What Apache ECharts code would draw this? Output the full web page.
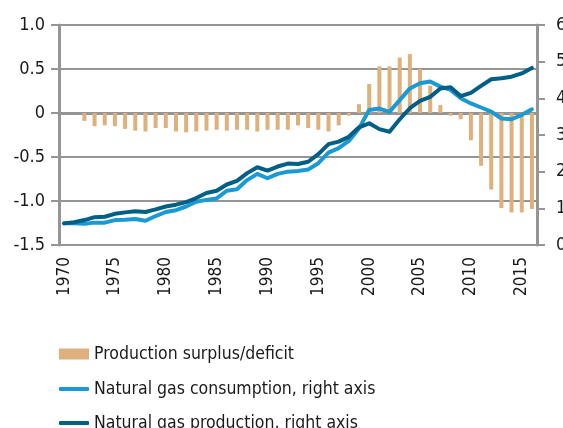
<!DOCTYPE html>
<html>
<head>
<meta charset="utf-8">
<script src="https://cdn.jsdelivr.net/npm/echarts@6/dist/echarts.min.js"></script>
<style>
  html, body { margin: 0; padding: 0; background: #fff; }
  #chart { width: 563px; height: 428px; }
</style>
</head>
<body>
<div id="chart"></div>
<script>
// years on the x axis
var years = [];
for (var y = 1970; y <= 2016; y++) years.push(String(y));

// production surplus/deficit, left axis (1970..2016)
var surplus = [null, null, -0.09, -0.15, -0.14, -0.15, -0.18, -0.2, -0.21, -0.17,
  -0.17, -0.21, -0.22, -0.21, -0.2, -0.19, -0.2, -0.19, -0.19, -0.21,
  -0.19, -0.19, -0.19, -0.14, -0.17, -0.19, -0.21, -0.14, -0.03, 0.1,
  0.33, 0.53, 0.53, 0.63, 0.67, 0.5, 0.31, 0.09, -0.03, -0.07,
  -0.31, -0.6, -0.87, -1.08, -1.13, -1.13, -1.09];

// natural gas consumption, right axis
var consumption = [0.59, 0.59, 0.58, 0.61, 0.61, 0.68, 0.69, 0.71, 0.66, 0.79,
  0.9, 0.95, 1.05, 1.18, 1.23, 1.27, 1.48, 1.52, 1.77, 1.94,
  1.82, 1.94, 2.0, 2.02, 2.06, 2.23, 2.52, 2.64, 2.84, 3.18,
  3.68, 3.72, 3.63, 3.95, 4.27, 4.41, 4.46, 4.32, 4.23, 4.0,
  3.86, 3.75, 3.64, 3.45, 3.43, 3.55, 3.7];

// natural gas production, right axis
var production = [0.59, 0.62, 0.68, 0.76, 0.77, 0.85, 0.89, 0.92, 0.9, 0.97,
  1.05, 1.1, 1.17, 1.28, 1.42, 1.48, 1.65, 1.75, 1.96, 2.12,
  2.03, 2.14, 2.22, 2.21, 2.27, 2.48, 2.75, 2.82, 2.95, 3.21,
  3.32, 3.16, 3.09, 3.43, 3.73, 3.93, 4.04, 4.27, 4.3, 4.06,
  4.15, 4.34, 4.52, 4.55, 4.59, 4.68, 4.83];

var FONT = "'Liberation Sans Narrow', 'DejaVu Sans Condensed', sans-serif";
var GREY = '#959595';
var INK = '#1a1a1a';

function legendRow(name, top, icon, h) {
  return {
    left: 59,
    top: top,
    padding: 0,
    itemWidth: 30,
    itemHeight: h,
    icon: icon,
    textStyle: { fontFamily: FONT, fontSize: 17.5, lineHeight: 20, color: INK },
    data: [name]
  };
}

var chart = echarts.init(document.getElementById('chart'));
chart.setOption({
  animation: false,
  textStyle: { fontFamily: FONT, color: INK },
  grid: { left: 59, right: 26, top: 25, bottom: 183, outerBoundsMode: 'none' },
  legend: [
    legendRow('Production surplus/deficit', 344, 'rect', 11),
    legendRow('Natural gas consumption, right axis', 379, 'roundRect', 4),
    legendRow('Natural gas production, right axis', 413, 'roundRect', 4)
  ],
  xAxis: {
    type: 'category',
    data: years,
    boundaryGap: true,
    axisLine: { lineStyle: { color: GREY, width: 3 } },
    axisTick: { show: false },
    axisLabel: {
      rotate: 90,
      interval: 4,
      margin: 12,
      fontSize: 17,
      fontFamily: FONT,
      color: INK
    }
  },
  yAxis: [
    {
      type: 'value',
      min: -1.5,
      max: 1.0,
      interval: 0.5,
      axisLine: { show: true, lineStyle: { color: GREY, width: 3 } },
      axisTick: { show: true, length: 8, lineStyle: { color: GREY, width: 2 } },
      splitLine: { lineStyle: { color: GREY, width: 2 } },
      axisLabel: {
        margin: 14,
        fontSize: 18,
        fontFamily: FONT,
        color: INK,
        formatter: function (v) { return v === 0 ? '0' : v.toFixed(1); }
      }
    },
    {
      type: 'value',
      min: 0,
      max: 6,
      interval: 1,
      position: 'right',
      axisLine: { show: true, lineStyle: { color: GREY, width: 3 } },
      axisTick: { show: true, length: 8, lineStyle: { color: GREY, width: 2 } },
      splitLine: { show: false },
      axisLabel: { margin: 19, fontSize: 18, fontFamily: FONT, color: INK }
    }
  ],
  series: [
    {
      name: 'Production surplus/deficit',
      type: 'bar',
      data: surplus,
      barWidth: 4,
      itemStyle: { color: '#ddb07c' },
      z: 1
    },
    {
      name: 'Natural gas consumption, right axis',
      type: 'line',
      yAxisIndex: 1,
      data: consumption,
      symbol: 'none',
      lineStyle: { color: '#1a9ad4', width: 4, cap: 'round', join: 'round' },
      itemStyle: { color: '#1a9ad4' },
      z: 3
    },
    {
      name: 'Natural gas production, right axis',
      type: 'line',
      yAxisIndex: 1,
      data: production,
      symbol: 'none',
      lineStyle: { color: '#005f86', width: 4, cap: 'round', join: 'round' },
      itemStyle: { color: '#005f86' },
      z: 4
    }
  ]
});
</script>
</body>
</html>
